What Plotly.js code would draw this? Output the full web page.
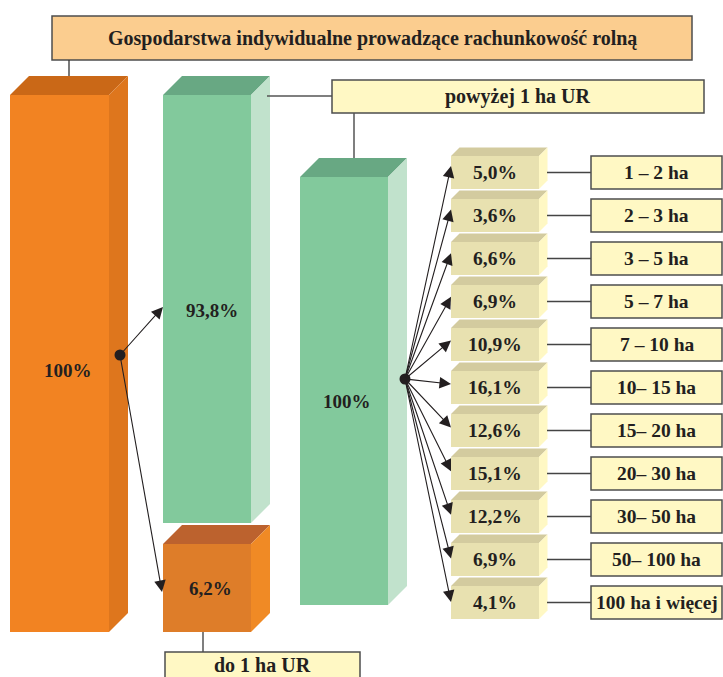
<!DOCTYPE html>
<html>
<head>
<meta charset="utf-8">
<script src="https://cdn.plot.ly/plotly-3.0.1.min.js"></script>
<style>html,body{margin:0;padding:0;background:#fff;}#chart{width:723px;height:677px;}</style>
</head>
<body>
<div id="chart"></div>
<script>
// ---- data ----
const titleText = 'Gospodarstwa indywidualne prowadzące rachunkowość rolną';
const totalShare = 100;
const aboveLabel = 'powyżej 1 ha UR';
const aboveShare = 93.8;
const belowLabel = 'do 1 ha UR';
const belowShare = 6.2;
const sizeClasses = ['1 – 2 ha','2 – 3 ha','3 – 5 ha','5 – 7 ha','7 – 10 ha','10– 15 ha','15– 20 ha','20– 30 ha','30– 50 ha','50– 100 ha','100 ha i więcej'];
const classShares = [5.0, 3.6, 6.6, 6.9, 10.9, 16.1, 12.6, 15.1, 12.2, 6.9, 4.1];

// ---- helpers ----
const fmt = v => (v === 100 ? '100' : v.toFixed(1).replace('.', ',')) + '%';
const shapes = [];
const annotations = [];
const FONT = {family: 'Liberation Serif, Times New Roman, serif', color: '#231f20'};

function box3d(x0, x1, y0, y1, d, front, side, top) {
  shapes.push({type:'path', layer:'below', xref:'x', yref:'y', path:`M${x0},${y0} L${x0+d},${y0-d} L${x1+d},${y0-d} L${x1},${y0} Z`, fillcolor:top, line:{width:0}});
  shapes.push({type:'path', layer:'below', xref:'x', yref:'y', path:`M${x1},${y0} L${x1+d},${y0-d} L${x1+d},${y1-d} L${x1},${y1} Z`, fillcolor:side, line:{width:0}});
  shapes.push({type:'rect', layer:'below', xref:'x', yref:'y', x0:x0, x1:x1, y0:y0, y1:y1, fillcolor:front, line:{width:0}});
}
function labelBox(x0, x1, y0, y1, fill, text, size, ty) {
  shapes.push({type:'rect', layer:'below', xref:'x', yref:'y', x0:x0, x1:x1, y0:y0, y1:y1, fillcolor:fill, line:{color:'#4d4d4d', width:1.5}});
  annotations.push({x:(x0+x1)/2, y:(ty !== undefined ? ty : (y0+y1)/2), xref:'x', yref:'y', text:'<b>'+text+'</b>', showarrow:false, font:Object.assign({size:size}, FONT)});
}
function line(x0, y0, x1, y1, color, w) {
  shapes.push({type:'line', layer:'below', xref:'x', yref:'y', x0:x0, y0:y0, x1:x1, y1:y1, line:{color:color||'#555', width:w||1.5}});
}
function label(x, y, text, size) {
  annotations.push({x:x, y:y, xref:'x', yref:'y', text:'<b>'+text+'</b>', showarrow:false, font:Object.assign({size:size}, FONT)});
}
function arrow(fx, fy, tx, ty) {
  annotations.push({x:tx, y:ty, ax:fx, ay:fy, xref:'x', yref:'y', axref:'x', ayref:'y', text:'', showarrow:true, arrowhead:2, arrowsize:2.1, arrowwidth:1.1, arrowcolor:'#231f20', standoff:0});
}

// ---- title ----
labelBox(52, 692, 16, 60, '#fbcd8f', titleText, 20);
line(69, 60, 69, 86, '#333', 1.3);

// ---- total box ----
box3d(10, 109, 95, 632, 19, '#f28322', '#de761d', '#ca6817');
label(68, 370, fmt(totalShare), 19);

// ---- above 1 ha ----
box3d(163, 251, 95, 523, 19, '#82c99c', '#c1e2cc', '#68a883');
label(212, 310, fmt(aboveShare), 19);
line(267, 96, 332, 96, '#555', 1.5);
labelBox(332, 704, 80, 113, '#fff8c4', aboveLabel, 20);
line(354, 113, 354, 166, '#555', 1.5);

// ---- below 1 ha ----
box3d(163, 251, 544, 632, 19, '#de7d29', '#f08a25', '#bc622e');
label(210, 588, fmt(belowShare), 19);
line(203, 632, 203, 652, '#555', 1.5);
labelBox(165, 360, 652, 690, '#fff8c4', belowLabel, 20, 665);

// ---- second green box ----
box3d(300, 388, 177, 605, 19, '#82c99c', '#c1e2cc', '#68a883');
label(347, 401, fmt(totalShare), 19);

// ---- arrows from total ----
arrow(120, 355, 163, 307);
arrow(120, 355, 162, 592);

// ---- size classes ----
const rowTop0 = 156, pitch = 43, rowH = 33;
sizeClasses.forEach((c, i) => {
  const y0 = rowTop0 + i * pitch, y1 = y0 + rowH;
  box3d(451, 539, y0, y1, 8.5, '#e8e1b0', '#fff8c4', '#d3cb9f');
  label(495, (y0 + y1) / 2, fmt(classShares[i]), 19.5);
  line(547, (y0 + y1) / 2, 591, (y0 + y1) / 2, '#444', 1.5);
  labelBox(591, 722, y0, y1, '#fff8c4', c, 19.5);
  arrow(405, 379, 451, y0 + 10 + i * 0.6);
});

// ---- dots ----
const dots = {x:[120, 405], y:[355, 379], type:'scatter', mode:'markers', marker:{color:'#231f20', size:11}, hoverinfo:'skip', showlegend:false, cliponaxis:false};

Plotly.newPlot('chart', [dots], {
  width:723, height:677,
  margin:{l:0, r:0, t:0, b:0},
  paper_bgcolor:'#ffffff', plot_bgcolor:'#ffffff',
  xaxis:{range:[0,723], visible:false, fixedrange:true},
  yaxis:{range:[677,0], visible:false, fixedrange:true},
  shapes:shapes,
  annotations:annotations,
  showlegend:false
}, {displayModeBar:false, staticPlot:true});
</script>
</body>
</html>
